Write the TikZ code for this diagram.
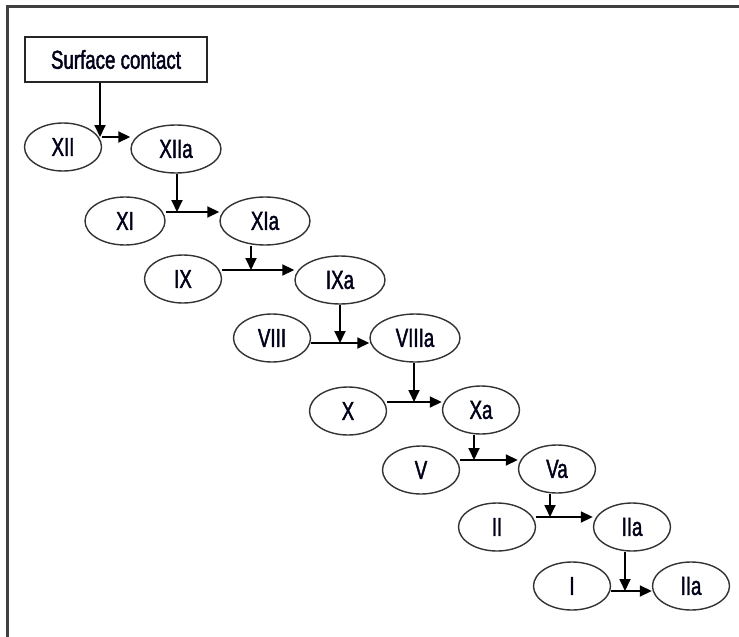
\documentclass[tikz,border=0pt]{standalone}
\usepackage{fontspec}
\setmainfont{Liberation Sans}[FakeStretch=0.72,FakeBold=1.6]
\usetikzlibrary{shapes.geometric,arrows.meta}

\begin{document}
\begin{tikzpicture}[x=1pt,y=-1pt,
	stage/.style={ellipse,draw=black!80,line width=1.4pt,inner sep=0pt,minimum width=77pt,minimum height=48pt,text=black!90!blue,font=\fontsize{26}{26}\selectfont},
	widestage/.style={stage,minimum width=90pt},
	startbox/.style={rectangle,draw=black!85,line width=1.6pt,minimum width=182pt,minimum height=45pt,text=black!90!blue,font=\fontsize{26}{26}\selectfont},
	flow/.style={line width=1.8pt,every edge/.style={draw,-{Triangle[length=12pt,width=11pt]}}}]
				\useasboundingbox (0,0) rectangle (739,637);
				\draw[black!75,line width=2.5pt] (7.5,637) |- (739,6.5); %frame, only top and left show

				\node[startbox] (contact) at (116,59.5){Surface contact};

				\node[stage] (n12) at (63,147){XII};
				\node[widestage] (n12a) at (176,149){XIIa};
				\node[stage,minimum width=80pt] (n11) at (125,221){XI};
				\node[widestage] (n11a) at (265,221){XIa};
				\node[stage] (n9) at (183,279){IX};
				\node[widestage] (n9a) at (340,280){IXa};
				\node[stage] (n8) at (272,338){VIII};
				\node[widestage] (n8a) at (415,338){VIIIa};
				\node[stage] (n10) at (348,411){X};
				\node[stage] (n10a) at (481,410){Xa};
				\node[stage] (n5) at (421,470){V};
				\node[stage] (n5a) at (557,469){Va};
				\node[stage] (n2) at (497,527){II};
				\node[stage] (n2a) at (632,527){IIa};
				\node[stage] (n1) at (572,586){I};
				\node[stage] (n1a) at (691,586){IIa};

				%junctions where the down arrows meet the row arrows
				\coordinate (j1) at (100,137);
				\coordinate (j2) at (177,212);
				\coordinate (j3) at (251,270);
				\coordinate (j4) at (340,343);
				\coordinate (j5) at (414,402);
				\coordinate (j6) at (474,460);
				\coordinate (j7) at (550,517);
				\coordinate (j8) at (625,591);

				\path[flow]
				(contact.south -| j1) edge (j1)
				(n12.east |- j1) edge (n12a.west |- j1)
				(n12a.south -| j2) edge (j2)
				(n11.east |- j2) edge (n11a.west |- j2)
				(n11a.south -| j3) edge (j3)
				(n9.east |- j3) edge (n9a.west |- j3)
				(n9a.south -| j4) edge (j4)
				(n8.east |- j4) edge (n8a.west |- j4)
				(n8a.south -| j5) edge (j5)
				(n10.east |- j5) edge (n10a.west |- j5)
				(n10a.south -| j6) edge (j6)
				(n5.east |- j6) edge (n5a.west |- j6)
				(n5a.south -| j7) edge (j7)
				(n2.east |- j7) edge (n2a.west |- j7)
				(n2a.south -| j8) edge (j8)
				(n1.east |- j8) edge (n1a.west |- j8)
				;
\end{tikzpicture}
\end{document}
